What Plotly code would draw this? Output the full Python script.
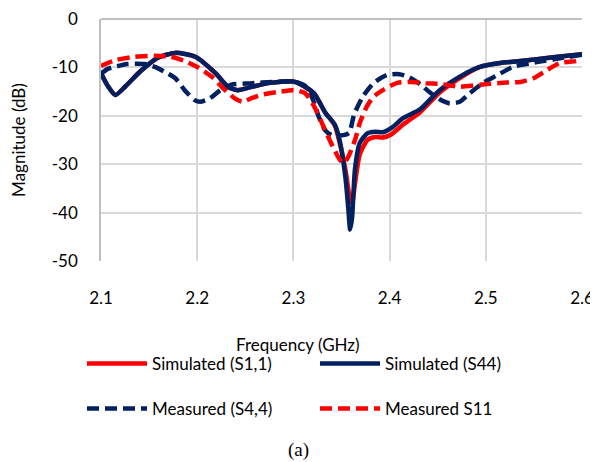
import plotly.graph_objects as go

# ---- data ----
freq_sim = [2.100, 2.107, 2.115, 2.125, 2.141, 2.159, 2.177, 2.198, 2.219, 2.232,
            2.242, 2.257, 2.276, 2.300, 2.312, 2.322, 2.333, 2.343, 2.348, 2.354,
            2.357, 2.359, 2.361, 2.364, 2.369, 2.377, 2.385, 2.393, 2.402, 2.414,
            2.432, 2.452, 2.473, 2.494, 2.515, 2.536, 2.570, 2.600]
s44_sim = [-11.2, -13.8, -15.7, -14.0, -10.8, -8.0, -7.0, -7.8, -11.2, -14.0,
           -14.7, -14.0, -13.2, -12.9, -14.0, -15.5, -19.3, -21.8, -25.0, -32.6,
           -39.0, -43.5, -41.0, -31.0, -25.6, -23.6, -23.3, -23.4, -22.5, -20.5,
           -18.6, -14.7, -11.9, -9.9, -9.1, -8.7, -7.9, -7.3]
s11_sim = [-11.2, -13.8, -15.7, -14.0, -10.8, -8.0, -7.0, -7.8, -11.2, -14.0,
           -14.7, -14.0, -13.2, -12.9, -14.0, -15.5, -19.3, -22.0, -25.5, -31.0,
           -35.0, -37.5, -38.0, -34.0, -28.0, -25.0, -24.4, -24.5, -23.8, -21.8,
           -19.2, -15.2, -12.2, -9.9, -9.1, -8.7, -7.9, -7.3]

freq_s44_meas = [2.100, 2.107, 2.114, 2.127, 2.145, 2.156, 2.166, 2.177, 2.187, 2.197,
                 2.203, 2.213, 2.224, 2.235, 2.255, 2.280, 2.300, 2.312, 2.320, 2.326,
                 2.333, 2.340, 2.352, 2.358, 2.363, 2.372, 2.383, 2.397, 2.410, 2.420,
                 2.432, 2.442, 2.452, 2.462, 2.473, 2.483, 2.497, 2.512, 2.528, 2.553,
                 2.577, 2.600]
s44_meas = [-11.3, -10.3, -9.9, -9.3, -9.3, -9.9, -10.9, -12.2, -14.7, -16.7,
            -17.1, -16.4, -14.7, -13.6, -13.3, -13.0, -12.9, -13.8, -16.5, -20.0,
            -23.0, -24.0, -24.0, -23.5, -19.8, -16.1, -13.3, -11.6, -11.4, -12.0,
            -13.5, -15.2, -16.6, -17.4, -17.1, -15.4, -13.2, -11.6, -9.9, -8.9,
            -8.1, -7.4]

freq_s11_meas = [2.100, 2.115, 2.135, 2.156, 2.173, 2.187, 2.200, 2.215, 2.229, 2.239,
                 2.247, 2.256, 2.266, 2.283, 2.300, 2.312, 2.322, 2.333, 2.341, 2.348,
                 2.352, 2.357, 2.364, 2.369, 2.376, 2.383, 2.393, 2.408, 2.424, 2.438,
                 2.452, 2.473, 2.494, 2.515, 2.536, 2.550, 2.564, 2.577, 2.594, 2.600]
s11_meas = [-9.7, -8.5, -7.8, -7.6, -7.8, -8.7, -9.9, -11.9, -14.7, -16.4,
            -17.1, -16.4, -15.7, -15.1, -14.7, -15.3, -18.2, -23.0, -26.4, -29.0,
            -29.8, -28.5, -25.0, -21.5, -18.2, -16.1, -14.7, -13.2, -13.0, -13.3,
            -13.4, -14.0, -13.6, -13.2, -13.0, -12.2, -10.5, -9.1, -8.7, -8.5]

x_ticks = [2.1, 2.2, 2.3, 2.4, 2.5, 2.6]
y_ticks = [0, -10, -20, -30, -40, -50]

RED = "#FF0000"
NAVY = "#002060"
FONT = "Lato"
LW = 4.5
DASH = "12px,6px"
OFF = 8                     # page body margin offset
W, H = 598 - OFF, 462 - OFF
PL, PR, PT, PB = 101, 582, 19, 261   # target plot-area edges in window pixels

fig = go.Figure()
fig.add_trace(go.Scatter(x=freq_sim, y=s11_sim, mode="lines", name="Simulated (S1,1)",
                         line=dict(color=RED, width=LW, shape="spline", smoothing=0.6),
                         legend="legend"))
fig.add_trace(go.Scatter(x=freq_sim, y=s44_sim, mode="lines", name="Simulated (S44)",
                         line=dict(color=NAVY, width=LW, shape="spline", smoothing=0.6),
                         legend="legend"))
fig.add_trace(go.Scatter(x=freq_s44_meas, y=s44_meas, mode="lines", name="Measured (S4,4)",
                         line=dict(color=NAVY, width=LW, dash=DASH, shape="spline", smoothing=0.6),
                         legend="legend2"))
fig.add_trace(go.Scatter(x=freq_s11_meas, y=s11_meas, mode="lines", name="Measured S11",
                         line=dict(color=RED, width=LW, dash=DASH, shape="spline", smoothing=0.6),
                         legend="legend2"))

legend_common = dict(orientation="h", xref="container", yref="container",
                     xanchor="left", yanchor="middle",
                     font=dict(family=FONT, size=17, color="#000000"),
                     itemwidth=60, entrywidth=158, entrywidthmode="pixels",
                     bgcolor="rgba(0,0,0,0)", itemclick=False, itemdoubleclick=False)

pw = PR - PL
ph = PB - PT
fig.update_layout(
    width=W, height=H,
    margin=dict(l=PL - OFF, r=W - (PR - OFF), t=PT - OFF, b=H - (PB - OFF), autoexpand=False),
    paper_bgcolor="white", plot_bgcolor="white",
    font=dict(family=FONT, size=17, color="#000000"),
    showlegend=True,
    legend=dict(x=(82 - OFF) / W, y=1 - (364 - OFF) / H, **legend_common),
    legend2=dict(x=(82 - OFF) / W, y=1 - (409 - OFF) / H, **legend_common),
    xaxis=dict(range=[2.1, 2.6], tickvals=x_ticks, ticktext=[f"{v:.1f}" for v in x_ticks],
               showgrid=True, gridcolor="#D9D9D9", gridwidth=1.5,
               showline=False, zeroline=False, ticks="", ticklabelstandoff=25,
               ticklabeloverflow="allow",
               tickfont=dict(family=FONT, size=17)),
    yaxis=dict(range=[-50, 0], tickvals=y_ticks, ticktext=[str(v) for v in y_ticks],
               showgrid=True, gridcolor="#D9D9D9", gridwidth=1.5,
               showline=True, linecolor="#BFBFBF", linewidth=1.5,
               zeroline=True, zerolinecolor="#BFBFBF", zerolinewidth=1.5,
               ticks="", ticklabelstandoff=18, ticklabeloverflow="allow",
               tickfont=dict(family=FONT, size=17),
               title=dict(text="Magnitude (dB)", font=dict(family=FONT, size=17), standoff=30)),
    annotations=[
        dict(text="Frequency (GHz)", xref="paper", yref="paper",
             x=(298 - PL) / pw, y=-(344 - PB) / ph, xanchor="center", yanchor="middle",
             showarrow=False, font=dict(family=FONT, size=17)),
        dict(text="(a)", xref="paper", yref="paper",
             x=(298 - PL) / pw, y=-(450 - PB) / ph, xanchor="center", yanchor="middle",
             showarrow=False, font=dict(family="Liberation Serif", size=19)),
    ],
)

fig.write_html("out.html")
